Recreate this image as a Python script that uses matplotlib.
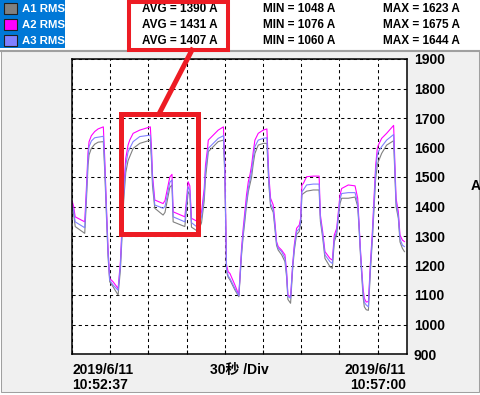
import numpy as np
import matplotlib
matplotlib.use("Agg")
import matplotlib.pyplot as plt
from matplotlib.patches import Rectangle
from matplotlib.lines import Line2D

# 経過時間 [s] (10:52:37 から)
t = [0, 1.3, 2.5, 10, 11.3, 12.6, 13.4, 15.2, 17.8, 20.5, 24.6, 25.7, 27, 28.3, 29.6, 32.2, 36.2,
     38, 39.3, 40.6, 42.2, 44, 45.3, 48, 53.2, 61.5, 62.4, 63.2, 65, 71.5, 73, 76.8, 78.5, 79.4,
     88.6, 91.2, 92.5, 93.8, 99, 101.7, 103.8, 104.8, 106.4, 107, 110.9, 114.8, 118.9, 120,
     121.3, 122.6, 124, 127.9, 131, 133.1, 134.4, 135.7, 137, 138.4, 139.7, 141, 142.3, 143.6,
     146.2, 150.1, 153, 154.5, 155.9, 158, 159.3, 160.6, 161.9, 164.6, 167.2, 168.5, 169.5,
     171.6, 173.2, 174.5, 176.3, 178.4, 179.5, 180.5, 181.6, 184.2, 189.4, 194, 195, 196.8,
     198.6, 202.5, 204.4, 205.9, 207.8, 209.1, 210.4, 211.7, 216.9, 222.2, 224.3, 225.3, 226.4,
     227.4, 228.5, 229.5, 231, 232.7, 234.2, 235.8, 237.1, 238.4, 239.7, 240.5, 243.1, 247,
     252.5, 254.4, 256.2, 257.5, 259.4, 261]

a2 = [1420, 1400, 1365, 1348, 1462, 1586, 1620, 1640, 1654, 1663, 1670, 1563, 1405, 1258, 1156, 1145, 1122,
      1213, 1337, 1461, 1563, 1608, 1625, 1648, 1659, 1670, 1600, 1507, 1422, 1410, 1420, 1500, 1509, 1382,
      1365, 1484, 1470, 1360, 1348, 1382, 1461, 1540, 1597, 1625, 1642, 1659, 1670, 1540,
      1202, 1179, 1173, 1134, 1100, 1258, 1326, 1382, 1439, 1484, 1507, 1540, 1586, 1625,
      1648, 1659, 1663, 1507, 1428, 1405, 1348, 1281, 1264, 1252, 1236, 1180, 1100,
      1094, 1202, 1269, 1326, 1337, 1360, 1473, 1478, 1501, 1503, 1503, 1371, 1315,
      1247, 1224, 1218, 1303, 1326, 1382, 1439, 1461, 1473, 1470, 1428, 1348, 1258,
      1190, 1122, 1089, 1076, 1078, 1202, 1315, 1428, 1540, 1597, 1608, 1631, 1648,
      1675, 1428, 1382, 1303, 1286, 1281]

a3 = [1405, 1385, 1348, 1328, 1440, 1565, 1603, 1622, 1633, 1635, 1638, 1540, 1390, 1245, 1150, 1134, 1116,
      1200, 1320, 1440, 1540, 1585, 1597, 1620, 1637, 1642, 1575, 1490, 1405, 1394, 1400, 1482, 1490, 1365,
      1348, 1467, 1455, 1345, 1328, 1365, 1440, 1520, 1575, 1597, 1614, 1631, 1640, 1515,
      1190, 1165, 1156, 1122, 1098, 1245, 1310, 1365, 1416, 1462, 1490, 1520, 1565, 1603,
      1625, 1631, 1633, 1490, 1410, 1390, 1335, 1275, 1258, 1247, 1224, 1170, 1095,
      1089, 1195, 1260, 1315, 1325, 1350, 1450, 1456, 1473, 1476, 1476, 1360, 1305,
      1236, 1213, 1207, 1290, 1315, 1370, 1425, 1444, 1447, 1447, 1410, 1340, 1250,
      1180, 1110, 1075, 1066, 1060, 1190, 1300, 1410, 1520, 1575, 1586, 1603, 1625,
      1644, 1415, 1370, 1290, 1269, 1264]

a1 = [1395, 1375, 1332, 1309, 1420, 1540, 1575, 1597, 1611, 1618, 1620, 1520, 1370, 1230, 1145, 1128, 1100,
      1185, 1300, 1420, 1515, 1555, 1569, 1597, 1614, 1625, 1555, 1470, 1394, 1371, 1380, 1465, 1473, 1348,
      1332, 1450, 1440, 1330, 1315, 1345, 1420, 1495, 1560, 1586, 1603, 1620, 1625, 1500,
      1180, 1160, 1151, 1117, 1094, 1235, 1300, 1350, 1405, 1450, 1475, 1500, 1545, 1580,
      1608, 1614, 1614, 1475, 1400, 1380, 1325, 1268, 1252, 1236, 1213, 1160, 1085,
      1072, 1185, 1250, 1305, 1315, 1340, 1440, 1444, 1452, 1456, 1456, 1350, 1295,
      1224, 1196, 1190, 1280, 1305, 1360, 1410, 1428, 1428, 1432, 1400, 1330, 1240,
      1170, 1095, 1060, 1050, 1048, 1175, 1285, 1390, 1495, 1540, 1552, 1580, 1608,
      1623, 1400, 1360, 1280, 1258, 1247]

names = ["A1 RMS", "A2 RMS", "A3 RMS"]
colors = ["#808080", "#ff00ff", "#8080ff"]
avg = [1390, 1431, 1407]
vmin = [1048, 1076, 1060]
vmax = [1623, 1675, 1644]
yticks = list(range(900, 2000, 100))
xticks = list(range(0, 241, 30))

plt.rcParams['font.family'] = ['Liberation Sans', 'Noto Sans CJK SC']
plt.rcParams['font.weight'] = 'bold'

W, H = 480, 395
fig = plt.figure(figsize=(W / 100, H / 100), dpi=100, facecolor='white')


def fx(x):
    return x / W


def fy(y):
    return 1 - y / H


# 下側パネル
fig.add_artist(Rectangle((fx(0.5), fy(391.5)), fx(478), (391.5 - 50) / H, transform=fig.transFigure,
                         facecolor='#f0f0f0', edgecolor='#a0a0a0', lw=0.75, zorder=-1))
fig.add_artist(Line2D([0, 1], [fy(50.5), fy(50.5)], transform=fig.transFigure,
                      color='#a0a0a0', lw=1.5, zorder=-1))

ax = fig.add_axes([fx(72), fy(354), (407 - 72) / W, (354 - 59) / H])
ax.set_facecolor('white')
for s, c in zip([a1, a2, a3], colors):
    ax.plot(t, s, color=c, lw=0.8)
ax.set_xlim(0, 263)
ax.set_ylim(900, 1900)
ax.set_yticks(yticks)
ax.set_xticks(xticks)
ax.yaxis.tick_right()
ax.tick_params(axis='y', length=0, pad=5, labelsize=10)
ax.tick_params(axis='x', direction='in', length=3, labelbottom=False)
ax.grid(True, color='black', linestyle=(0, (3, 3)), lw=0.75)
for sp in ax.spines.values():
    sp.set_linewidth(1.1)

fig.text(fx(476), fy(186), "A", ha='center', va='center', fontsize=10)

# 凡例
fig.add_artist(Rectangle((0, fy(48)), fx(65), 48 / H, transform=fig.transFigure,
                         facecolor='#0078d7', edgecolor='none'))
for i in range(3):
    yc = 8.5 + 16 * i
    fig.add_artist(Rectangle((fx(3.5), fy(yc + 5)), fx(13.5), 10.5 / H, transform=fig.transFigure,
                             facecolor=colors[i], edgecolor='#202020', lw=0.8))
    fig.text(fx(22), fy(yc), names[i], color='white', fontsize=8.2, va='center', ha='left')
    fig.text(fx(218), fy(yc), f"AVG = {avg[i]} A", fontsize=8.5, va='center', ha='right')
    fig.text(fx(263), fy(yc), f"MIN = {vmin[i]} A", fontsize=8.5, va='center', ha='left')
    fig.text(fx(383), fy(yc), f"MAX = {vmax[i]} A", fontsize=8.5, va='center', ha='left')

# 赤枠
red = '#ed1c24'
fig.add_artist(Rectangle((fx(128.7), fy(49.7)), (228.3 - 128.7) / W, (49.7 - 2) / H,
                         transform=fig.transFigure, facecolor='none', edgecolor=red, lw=2.9, zorder=5))
fig.add_artist(Rectangle((fx(120.8), fy(233.5)), (197.5 - 120.8) / W, (233.5 - 113.5) / H,
                         transform=fig.transFigure, facecolor='none', edgecolor=red, lw=3.6, zorder=5))
fig.add_artist(Line2D([fx(192), fx(160)], [fy(50), fy(112)], transform=fig.transFigure,
                      color=red, lw=3.6, zorder=5))

# 下部テキスト
fig.text(fx(72.5), fy(370), "2019/6/11", fontsize=10, va='center', ha='left')
fig.text(fx(72.5), fy(385), "10:52:37", fontsize=10, va='center', ha='left')
fig.text(fx(210), fy(370), "30秒 /Div", fontsize=10, va='center', ha='left')
fig.text(fx(406), fy(370), "2019/6/11", fontsize=10, va='center', ha='right')
fig.text(fx(406), fy(385), "10:57:00", fontsize=10, va='center', ha='right')

fig.savefig("out.png", dpi=100, facecolor=fig.get_facecolor())
